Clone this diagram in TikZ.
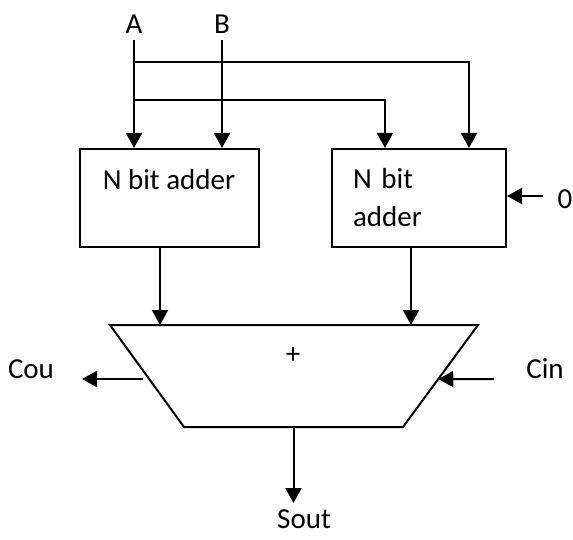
\documentclass[tikz,border=0pt]{standalone}
\usepackage{fontspec}
\setmainfont{Carlito}
\usetikzlibrary{arrows.meta,calc}
\tikzset{
  box/.style={draw=black, line width=2pt, minimum height=98pt, inner xsep=21pt},
  arrow/.style={-{Triangle[length=15pt,width=16pt]}, line width=2pt},
  wire/.style={line width=2pt},
  lbl/.style={anchor=base, inner sep=6pt}
}
\begin{document}
\begin{tikzpicture}[x=1pt, y=-1pt, every node/.style={font=\fontsize{29}{38}\selectfont}]
  \useasboundingbox (0,0) rectangle (573,540);
  % inputs
  \node[lbl] (A) at (134,34) {A};
  \node[lbl] (B) at (222,34) {B};
  % the two adders
  \node[box, minimum width=179pt, align=center] (add1) at (169,198) {N bit adder\\\mbox{}};
  \node[box, text width=132pt, align=left] (add2) at (419,198) {N bit\\adder};
  \coordinate (j1) at (134,62);
  \coordinate (j2) at (134,100);
  \draw[arrow] (A.south) -- (A.south |- add1.north);
  \draw[arrow] (B.south) -- (B.south |- add1.north);
  \draw[arrow] (j1) -| ([xshift=50pt]add2.north);
  \draw[arrow] (j2) -| ([xshift=-34pt]add2.north);
  \node[lbl] (zero) at (565,209) {0};
  \coordinate (zin) at (543,196);
  \draw[arrow] (zin) -- ([yshift=2pt]add2.east);
  % final adder
  \coordinate (tl) at (110,325);
  \coordinate (tr) at (478,325);
  \coordinate (br) at (403,427);
  \coordinate (bl) at (184,427);
  \draw[wire] (tl) -- (tr) -- (br) -- (bl) -- cycle;
  \node (plus) at (293,356) {+};
  \draw[arrow] ([xshift=-9pt]add1.south) -- ([xshift=-9pt]add1.south |- tl);
  \draw[arrow] ([xshift=-8pt]add2.south) -- ([xshift=-8pt]add2.south |- tr);
  \node[lbl] (cou) at (31,378) {Cou};
  \node[lbl] (cin) at (545,378) {Cin};
  \node[lbl, inner sep=2pt] (sout) at (304,528) {Sout};
  \coordinate (couin) at (143,379);
  \coordinate (couend) at (82,379);
  \coordinate (cinin) at (494,379);
  \coordinate (cinend) at ($(tr)!0.53!(br)$);
  \coordinate (sumout) at ($(bl)!0.5!(br)$);
  \coordinate (soutend) at (293.5,503);
  \draw[arrow] (couin) -- (couend);
  \draw[arrow] (cinin) -- (cinend);
  \draw[arrow] (sumout) -- (soutend);
\end{tikzpicture}
\end{document}
